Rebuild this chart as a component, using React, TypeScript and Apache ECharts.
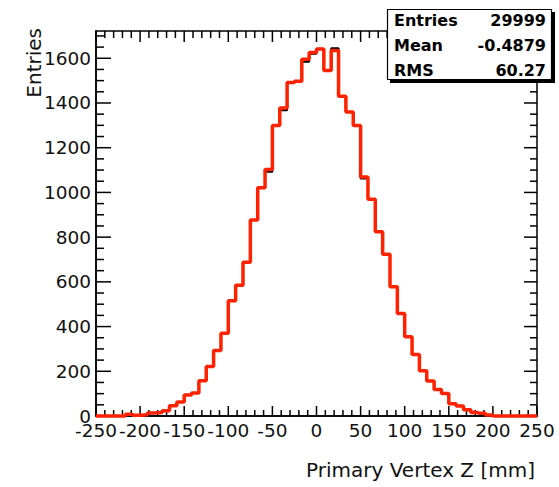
import React, { useEffect, useRef } from "react";
import * as echarts from "echarts";

// Histogram definition
const X_MIN = -250;
const X_MAX = 250;
const N_BINS = 60;
const Y_MAX = 1722;
const X_TICK_STEP = 50;
const X_MINOR_STEP = 10;
const Y_TICK_STEP = 200;
const Y_MINOR_STEP = 50;
const Y_TICK_TOP = 1700;

// Bin contents (red histogram, drawn on top)
const redCounts = [
  0, 0, 0, 0, 8, 3, 6, 13, 16, 24,
  46, 63, 94, 103, 158, 221, 293, 370, 515, 585,
  688, 877, 1021, 1103, 1299, 1378, 1492, 1497, 1596, 1626,
  1641, 1545, 1635, 1430, 1360, 1299, 1069, 970, 824, 723,
  578, 458, 355, 275, 202, 156, 119, 101, 55, 45,
  28, 16, 12, 5, 0, 0, 0, 0, 0, 0,
];

// Bin contents (black histogram, underneath)
const blackCounts = [
  0, 0, 0, 0, 8, 3, 6, 13, 16, 24,
  46, 63, 94, 103, 158, 221, 293, 370, 515, 585,
  688, 877, 1021, 1092, 1299, 1368, 1492, 1497, 1585, 1620,
  1641, 1545, 1645, 1430, 1360, 1299, 1062, 970, 824, 723,
  578, 458, 355, 275, 202, 156, 119, 101, 55, 45,
  28, 16, 12, 5, 0, 0, 0, 0, 0, 0,
];

const statLabels = ["Entries", "Mean", "RMS"];
const statValues = ["29999", "-0.4879", "60.27"];
const xTitle = "Primary Vertex Z [mm]";
const yTitle = "Entries";

const FONT = "DejaVu Sans";

function toSteps(counts: number[]): number[][] {
  const w = (X_MAX - X_MIN) / N_BINS;
  const pts = counts.map((c, i) => [X_MIN + i * w, c]);
  pts.push([X_MAX, counts[counts.length - 1]]);
  return pts;
}

// tick specs: [value, kind, length]; kind 0 = bottom, 1 = top, 2 = left, 3 = right
function buildTicks(): number[][] {
  const out: number[][] = [];
  for (let v = X_MIN; v <= X_MAX; v += X_MINOR_STEP) {
    const major = v % X_TICK_STEP === 0;
    out.push([v, 0, major ? 10 : 6]);
    out.push([v, 1, major ? 11 : 7]);
  }
  for (let v = 0; v <= Y_TICK_TOP; v += Y_MINOR_STEP) {
    const major = v % Y_TICK_STEP === 0;
    out.push([v, 2, major ? 15 : 8]);
    out.push([v, 3, major ? 13 : 7]);
  }
  return out;
}

export default function App() {
  const ref = useRef<HTMLDivElement>(null);

  useEffect(() => {
    if (!ref.current) return;
    const chart = echarts.init(ref.current, undefined, { renderer: "svg" });

    const labelStyle = { color: "#111", fontFamily: FONT, fontSize: 18.5 };
    const rowY = [20.5, 45, 70];

    const graphics: any[] = [
      {
        type: "text",
        x: 34,
        y: 28,
        rotation: Math.PI / 2,
        style: {
          text: yTitle,
          fill: "#111",
          font: `20px "${FONT}"`,
          textAlign: "right",
          textVerticalAlign: "middle",
        },
      },
      {
        type: "text",
        x: 535,
        y: 470,
        style: {
          text: xTitle,
          fill: "#111",
          font: `20px "${FONT}"`,
          textAlign: "right",
          textVerticalAlign: "middle",
        },
      },
      {
        type: "rect",
        shape: { x: 390, y: 12, width: 165, height: 71 },
        style: { fill: "#000" },
        z: 10,
      },
      {
        type: "rect",
        shape: { x: 387.5, y: 9.5, width: 164, height: 70 },
        style: { fill: "#fff", stroke: "#000", lineWidth: 1.2 },
        z: 11,
      },
    ];
    statLabels.forEach((lab, i) => {
      graphics.push({
        type: "text",
        x: 394,
        y: rowY[i],
        z: 12,
        style: {
          text: lab,
          fill: "#000",
          font: `bold 16px "${FONT}"`,
          textAlign: "left",
          textVerticalAlign: "middle",
        },
      });
      graphics.push({
        type: "text",
        x: 546,
        y: rowY[i],
        z: 12,
        style: {
          text: statValues[i],
          fill: "#000",
          font: `bold 16px "${FONT}"`,
          textAlign: "right",
          textVerticalAlign: "middle",
        },
      });
    });

    chart.setOption({
      animation: false,
      backgroundColor: "#fff",
      grid: {
        left: 96,
        top: 31,
        width: 441,
        height: 385,
        show: true,
        borderColor: "#000",
        borderWidth: 1.5,
        backgroundColor: "transparent",
      },
      xAxis: {
        type: "value",
        min: X_MIN,
        max: X_MAX,
        interval: X_TICK_STEP,
        axisLine: { show: true, onZero: false, lineStyle: { color: "#000", width: 1.5 } },
        axisTick: { show: false },
        splitLine: { show: false },
        axisLabel: { ...labelStyle, margin: 5, showMinLabel: true, showMaxLabel: true },
      },
      yAxis: {
        type: "value",
        min: 0,
        max: Y_MAX,
        interval: Y_TICK_STEP,
        axisLine: { show: true, onZero: false, lineStyle: { color: "#000", width: 1.5 } },
        axisTick: { show: false },
        splitLine: { show: false },
        axisLabel: {
          ...labelStyle,
          margin: 5,
          showMaxLabel: false,
          formatter: (v: number) => (v % Y_TICK_STEP === 0 ? String(v) : ""),
        },
      },
      series: [
        {
          type: "custom",
          name: "ticks",
          data: buildTicks(),
          clip: false,
          silent: true,
          z: 1,
          renderItem: (params: any, api: any) => {
            const v = api.value(0);
            const kind = api.value(1);
            const len = api.value(2);
            const cs = params.coordSys;
            const left = cs.x;
            const right = cs.x + cs.width;
            const top = cs.y;
            const bottom = cs.y + cs.height;
            let shape;
            if (kind === 0 || kind === 1) {
              const px = api.coord([v, 0])[0];
              shape = kind === 0
                ? { x1: px, y1: bottom, x2: px, y2: bottom - len }
                : { x1: px, y1: top, x2: px, y2: top + len };
            } else {
              const py = api.coord([X_MIN, v])[1];
              shape = kind === 2
                ? { x1: left, y1: py, x2: left + len, y2: py }
                : { x1: right, y1: py, x2: right - len, y2: py };
            }
            return {
              type: "line",
              shape,
              style: { stroke: "#000", lineWidth: 1.5 },
            };
          },
        },
        {
          type: "line",
          name: "black",
          data: toSteps(blackCounts),
          step: "end",
          showSymbol: false,
          clip: false,
          lineStyle: { color: "#000", width: 2 },
          z: 3,
        },
        {
          type: "line",
          name: "red",
          data: toSteps(redCounts),
          step: "end",
          showSymbol: false,
          clip: false,
          lineStyle: { color: "#ff2200", width: 3.5 },
          z: 4,
        },
      ],
      graphic: graphics,
    });

    return () => chart.dispose();
  }, []);

  return (
    <div
      ref={ref}
      style={{ position: "absolute", left: 0, top: 0, width: 559, height: 487 }}
    />
  );
}
